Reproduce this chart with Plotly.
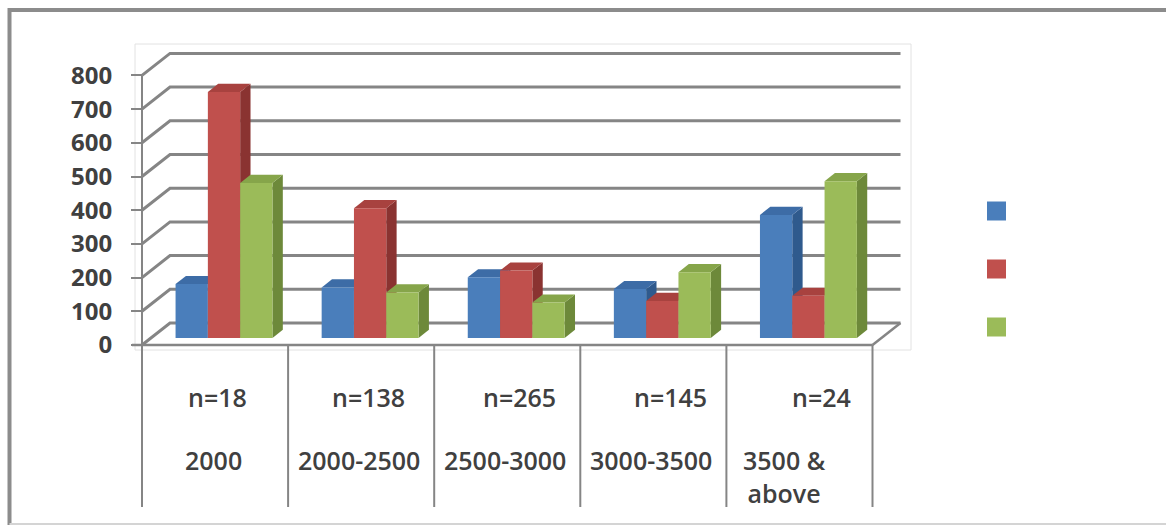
import plotly.graph_objects as go

# ---- data -------------------------------------------------------------
categories = ["2000", "2000-2500", "2500-3000", "3000-3500", "3500 &<br>above"]
sample_sizes = ["n=18", "n=138", "n=265", "n=145", "n=24"]
series_blue = [160, 150, 180, 145, 365]
series_red = [730, 385, 200, 110, 125]
series_green = [460, 135, 105, 195, 465]
y_ticks = [0, 100, 200, 300, 400, 500, 600, 700, 800]

# ---- styles -------------------------------------------------------------
series = [
    ("Series 1", series_blue, "#4a7ebb", "#3d6ca6", "#2f5a8d"),
    ("Series 2", series_red, "#c0504d", "#a8423f", "#8a3331"),
    ("Series 3", series_green, "#9bbb59", "#86a54a", "#6d893a"),
]
GRID = "#858585"
TEXT = "#404040"

# ---- geometry (pixel layout of the oblique 3-D box) ----------------------
W, H = 1166, 527
X0_PX = 142.0      # pixel x of category edge 0 on the front plane
CAT_PX = 146.1     # pixel width of one category
Y0_PX = 345.0      # pixel y of value 0 on the front plane
V_PX = 0.337       # pixels per value unit

x_range = [-X0_PX / CAT_PX, (W - X0_PX) / CAT_PX]
y_range = [(Y0_PX - H) / V_PX, Y0_PX / V_PX]


def dx(px):
    return px / CAT_PX


def dv(px):
    return px / V_PX


DEPTH_X, DEPTH_V = dx(28), dv(22)   # full floor depth
FACE_D = 0.32                       # depth of the bar front faces
BAR_D = 0.37                        # bar thickness along the depth
BAR_W = dx(32.3)
N_CAT = len(categories)
TABLE_BOTTOM = dv(Y0_PX - 507)      # negative value: below the floor


def path(points):
    return "M " + " L ".join(f"{x:.5f},{y:.5f}" for x, y in points)


shapes = []

# chart frame
shapes.append(dict(type="line", xref="paper", yref="paper", x0=9.5 / W, x1=1.02,
                   y0=1 - 10 / H, y1=1 - 10 / H, line=dict(color="#8c8c8c", width=4)))
shapes.append(dict(type="line", xref="paper", yref="paper", x0=9.5 / W, x1=9.5 / W,
                   y0=1 - 8 / H, y1=1 - 525 / H, line=dict(color="#8c8c8c", width=4)))
shapes.append(dict(type="line", xref="paper", yref="paper", x0=9.5 / W, x1=1.02,
                   y0=1 - 524 / H, y1=1 - 524 / H, line=dict(color="#d4d4d4", width=2)))
# plot area outline
shapes.append(dict(type="rect", xref="paper", yref="paper", x0=135 / W, x1=911 / W,
                   y0=1 - 350 / H, y1=1 - 44 / H, line=dict(color="#e2e2e2", width=1),
                   layer="below"))

# back wall and side wall gridlines
for v in y_ticks:
    shapes.append(dict(type="path", xref="x", yref="y", layer="below",
                       path=path([(0, v), (DEPTH_X, v + DEPTH_V),
                                  (N_CAT + DEPTH_X, v + DEPTH_V)]),
                       line=dict(color=GRID, width=3)))

# floor front edge, right floor edge and front axis
shapes.append(dict(type="line", xref="x", yref="y", layer="below",
                   x0=-dx(10), x1=N_CAT, y0=0, y1=0, line=dict(color=GRID, width=2.5)))
shapes.append(dict(type="line", xref="x", yref="y", layer="below",
                   x0=N_CAT, x1=N_CAT + DEPTH_X, y0=0, y1=DEPTH_V,
                   line=dict(color=GRID, width=2.5)))
shapes.append(dict(type="line", xref="x", yref="y", layer="below",
                   x0=0, x1=0, y0=y_ticks[-1], y1=TABLE_BOTTOM,
                   line=dict(color=GRID, width=2)))

# category table dividers
for i in range(1, N_CAT + 1):
    shapes.append(dict(type="line", xref="x", yref="y", layer="below",
                       x0=i, x1=i, y0=0, y1=TABLE_BOTTOM,
                       line=dict(color=GRID, width=2)))

# bars: front faces as bar traces, side and top faces as shapes
fig = go.Figure()
face_x = FACE_D * DEPTH_X
face_v = FACE_D * DEPTH_V
bx, bv = BAR_D * DEPTH_X, BAR_D * DEPTH_V

for i in range(N_CAT):
    for j, (name, vals, front, top, side) in enumerate(series):
        left = i + 0.5 - 1.5 * BAR_W + j * BAR_W + face_x
        right = left + BAR_W
        base = face_v
        peak = face_v + vals[i]
        shapes.append(dict(type="path", xref="x", yref="y", layer="between",
                           path=path([(right, base), (right, peak), (right + bx, peak + bv),
                                      (right + bx, base + bv)]) + " Z",
                           fillcolor=side, line=dict(width=0)))
        shapes.append(dict(type="path", xref="x", yref="y", layer="between",
                           path=path([(left, peak), (right, peak), (right + bx, peak + bv),
                                      (left + bx, peak + bv)]) + " Z",
                           fillcolor=top, line=dict(width=0)))

for j, (name, vals, front, top, side) in enumerate(series):
    xs = [i + 0.5 + (j - 1) * BAR_W + face_x for i in range(N_CAT)]
    fig.add_trace(go.Bar(x=xs, y=vals, base=[face_v] * N_CAT, width=BAR_W,
                         name=name, marker=dict(color=front, line=dict(width=0)),
                         showlegend=False, hoverinfo="skip"))

# legend keys
for j, (name, vals, front, top, side) in enumerate(series):
    cy = 211 + j * 58
    shapes.append(dict(type="rect", xref="paper", yref="paper",
                       x0=987 / W, x1=1006 / W, y0=1 - (cy + 9.5) / H, y1=1 - (cy - 9.5) / H,
                       fillcolor=front, line=dict(width=0)))

# category table text
annotations = []
label_font = dict(family="Open Sans", size=25, color=TEXT, weight=600)
for i in range(N_CAT):
    annotations.append(dict(xref="x", yref="y", x=i + 0.5 + dx(2 + 5 * i), y=dv(Y0_PX - 397),
                            text=sample_sizes[i], showarrow=False, font=label_font,
                            xanchor="center", yanchor="middle"))
    shift = dx(-2) if i < N_CAT - 1 else dx(-15)
    annotations.append(dict(xref="x", yref="y", x=i + 0.5 + shift, y=dv(Y0_PX - 441),
                            text=categories[i], showarrow=False, font=label_font,
                            xanchor="center", yanchor="top", align="center"))

fig.update_layout(
    width=W, height=H,
    margin=dict(l=0, r=0, t=0, b=0),
    paper_bgcolor="white", plot_bgcolor="white",
    barmode="overlay",
    showlegend=False,
    xaxis=dict(range=x_range, visible=False, fixedrange=True),
    yaxis=dict(range=y_range, anchor="free", position=X0_PX / W, side="left",
               tickvals=y_ticks, ticks="outside", ticklen=11, tickwidth=2,
               tickcolor=GRID, showgrid=False, zeroline=False, showline=False,
               ticklabelstandoff=14,
               tickfont=dict(family="Open Sans", size=24, color=TEXT, weight="bold"),
               fixedrange=True),
    shapes=shapes,
    annotations=annotations,
)

fig.write_html("out.html")
